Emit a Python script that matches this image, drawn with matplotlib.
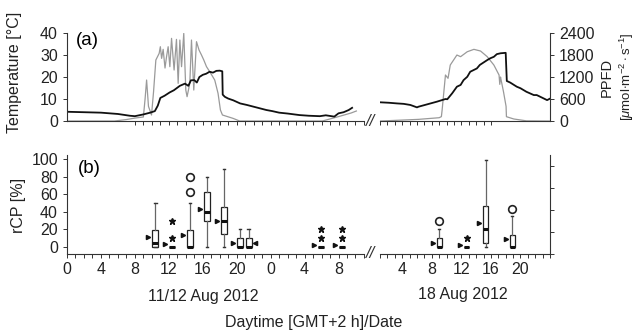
import matplotlib
matplotlib.use('Agg')
import matplotlib.pyplot as plt

plt.rcParams['font.family'] = ['Liberation Sans', 'DejaVu Sans']
plt.rcParams['mathtext.fontset'] = 'custom'
plt.rcParams['mathtext.rm'] = 'Liberation Sans'
plt.rcParams['mathtext.it'] = 'Liberation Sans:italic'
plt.rcParams['font.size'] = 11.5

# ---- (a) temperature / PPFD, 11/12 Aug (hours from 11 Aug 0:00)
t_temp_l = [0, 2, 4, 6, 7.4, 8, 9, 9.8, 10.35, 10.7, 11, 11.5, 12.1, 12.6, 13.3, 13.9, 14.3,
            14.6, 15, 15.3, 15.6, 16, 16.4, 16.8, 17.2, 17.6, 18, 18.3, 18.35, 18.6, 19, 19.6,
            20.4, 21.2, 22, 22.7, 23.5, 24.2, 25, 26, 27.4, 28.5, 29.8, 30.5, 31.5, 32, 32.6, 33.2, 33.6]
temp_l = [4.2, 4.0, 3.8, 3.2, 2.4, 2.2, 3.0, 3.8, 4.5, 7.0, 10.5, 11.5, 13.0, 14.0, 16.0, 17.0, 16.0,
          18.5, 18.6, 17.5, 20.0, 21.0, 21.5, 22.4, 22.0, 22.8, 22.9, 22.6, 12.0, 11.0, 10.2, 9.4,
          8.0, 7.3, 6.5, 5.8, 5.0, 4.5, 3.8, 3.4, 2.7, 2.4, 2.2, 2.6, 2.0, 3.5, 4.0, 5.0, 6.0]

t_ppfd_l = [0, 5.6, 7.0, 8.0, 9.0, 9.2, 9.38, 9.6, 9.96, 10.2, 10.47, 10.86, 11.0, 11.15, 11.33, 11.55,
            11.73, 11.92, 12.12, 12.32, 12.62, 12.9, 13.1, 13.3, 13.5, 13.76, 14.0, 14.15, 14.47,
            14.67, 14.94, 15.26, 15.56, 15.85, 16.12, 16.44, 16.82, 17.41, 17.8, 18.08, 18.32,
            19.56, 20.35, 29.0, 30.1, 32.0, 33.5, 34.1]
ppfd_l = [0, 0, 40, 80, 110, 600, 1118, 400, 164, 800, 1664, 1845, 2027, 1709, 1955, 1445,
          1755, 2027, 1482, 2255, 1391, 2227, 1027, 2209, 1482, 2391, 845, 664, 1027,
          2209, 845, 2164, 1936, 1800, 1664, 1482, 1345, 1118, 755, 300, 164,
          73, 0, 0, 0, 120, 220, 273]

# ---- (a) 18 Aug
t_temp_r = [1.07, 2.2, 3.3, 4.2, 5.1, 6.0, 6.2, 7.4, 8.7, 9.85, 10.1, 10.76, 11.4, 11.9, 12.3,
            12.8, 13.2, 14.1, 14.5, 15.5, 15.9, 16.4, 16.8, 17.3, 18.0, 18.15, 18.6, 19.5,
            20.0, 20.8, 21.8, 22.2, 23.3, 23.6, 24.0]
temp_r = [8.5, 8.3, 8.0, 7.8, 7.3, 6.2, 6.5, 7.6, 8.8, 10.0, 9.9, 12.6, 15.6, 16.4, 18.6,
          20.1, 22.4, 23.9, 25.5, 27.7, 28.5, 29.2, 30.4, 30.8, 31.0, 18.2, 17.5, 15.6,
          14.9, 13.3, 11.8, 11.8, 10.0, 9.5, 10.2]

t_ppfd_r = [1.07, 6.2, 9.0, 9.3, 9.4, 9.85, 10.2, 10.5, 11.4, 11.9, 12.8, 13.7, 14.6, 15.5,
            16.4, 17.1, 17.2, 17.3, 17.4, 17.7, 18.05, 18.1, 19.1, 20.8, 24.0]
ppfd_r = [0, 45, 90, 120, 300, 1255, 1164, 1527, 1800, 1755, 1890, 1955, 1909, 1755,
          1527, 1255, 1000, 1200, 1100, 800, 400, 118, 55, 5, 0]

# ---- (b) rCP boxplots: position [h], q1, median, q3, whisker low/high, mean,
#      outliers (o), extremes (*), side of the mean marker
box_pos_l = [10.4, 12.4, 14.5, 16.5, 18.5, 20.4, 21.4, 29.9, 32.4]
q1_l = [0, 0, 0, 30, 15, 0, 0, 0, 0]
med_l = [4.5, 0, 0, 40, 30, 0, 0, 0, 0]
q3_l = [19, 0, 19, 63, 45, 10, 10, 0, 0]
wlo_l = [0, 0, 0, 0, 0, 0, 0, 0, 0]
whi_l = [50, 0, 50, 80, 89, 20, 20, 0, 0]
mean_l = [11, 3, 14, 43, 30, 5, 5, 2, 2]
circ_l = [[], [], [62, 80], [], [], [], [], [], []]
star_l = [[], [10, 30], [], [], [], [], [], [10, 20], [10, 20]]
side_l = ['L', 'L', 'L', 'L', 'L', 'L', 'R', 'L', 'L']

box_pos_r = [9.0, 12.7, 15.3, 18.9]
q1_r = [0, 0, 4.5, 0]
med_r = [0, 0, 20, 0]
q3_r = [10, 0, 47, 14]
wlo_r = [0, 0, 0, 0]
whi_r = [20, 0, 99, 35]
mean_r = [5, 2, 27.6, 9]
circ_r = [[30], [], [], [43]]
star_r = [[], [10], [], []]
side_r = ['L', 'L', 'L', 'L']

xl_lim = (0, 35)
xr_lim = (1, 24)

fig = plt.figure(figsize=(6.37, 3.32), dpi=100)
ax_tl = fig.add_axes([0.1052, 0.6355, 0.4662, 0.265])
ax_tr = fig.add_axes([0.5966, 0.6355, 0.2669, 0.265])
ax_bl = fig.add_axes([0.1052, 0.2349, 0.4662, 0.2982])
ax_br = fig.add_axes([0.5966, 0.2349, 0.2669, 0.2982])

tick_kw = dict(direction='out', length=3, width=0.7, colors='#333333', labelcolor='#222222')
for ax in (ax_tl, ax_tr, ax_bl, ax_br):
    for s in ax.spines.values():
        s.set_linewidth(0.8)
        s.set_color('#333333')
    ax.spines['top'].set_visible(False)
    ax.spines['right'].set_visible(False)
    ax.tick_params(**tick_kw)

# ---- top panel
ppfd_tl = ax_tl.twinx()
ppfd_tr = ax_tr.twinx()
for ax, tt, tv, tp, pv, xlim, p in ((ax_tl, t_temp_l, temp_l, t_ppfd_l, ppfd_l, xl_lim, ppfd_tl),
                                   (ax_tr, t_temp_r, temp_r, t_ppfd_r, ppfd_r, xr_lim, ppfd_tr)):
    p.plot(tp, pv, color='#9a9a9a', lw=0.9)
    ax.plot(tt, tv, color='#111111', lw=1.3)
    ax.set_zorder(p.get_zorder() + 1)
    ax.patch.set_visible(False)
    ax.set_xlim(*xlim)
    ax.set_ylim(0, 40)
    p.set_ylim(0, 2400)
    for s in p.spines.values():
        s.set_visible(False)
    ax.tick_params(axis='x', labelbottom=False)

ppfd_tl.tick_params(axis='y', right=False, labelright=False)
ppfd_tr.spines['right'].set_visible(True)
ppfd_tr.spines['right'].set_linewidth(0.8)
ppfd_tr.spines['right'].set_color('#333333')
ppfd_tr.set_yticks([0, 600, 1200, 1800, 2400])
ppfd_tr.tick_params(axis='y', **tick_kw)
ax_tl.set_yticks([0, 10, 20, 30, 40])
ax_tl.set_xticks(range(8, 36))
ax_tr.set_xticks(range(1, 17))
ax_tl.text(0.03, 0.92, '(a)', transform=ax_tl.transAxes, fontsize=13.5, va='center')

# ---- bottom panel
def draw_boxes(ax, pos, q1, med, q3, wlo, whi, mean, circ, star, side, off):
    stats = []
    for i in range(len(pos)):
        stats.append(dict(med=med[i], q1=q1[i], q3=q3[i], whislo=wlo[i], whishi=whi[i],
                          fliers=circ[i]))
    ax.bxp(stats, positions=pos, widths=0.7, patch_artist=True, manage_ticks=False,
           boxprops=dict(facecolor='white', edgecolor='#222222', linewidth=0.9),
           medianprops=dict(color='#111111', linewidth=2.2),
           whiskerprops=dict(color='#666666', linewidth=0.9),
           capprops=dict(color='#333333', linewidth=1.0), capwidths=0.3,
           flierprops=dict(marker='o', markerfacecolor='none', markeredgecolor='#222222',
                           markersize=5.5, markeredgewidth=1.2))
    for i in range(len(pos)):
        if star[i]:
            ax.plot([pos[i]] * len(star[i]), star[i], ls='none', marker='*',
                    color='#111111', markersize=5)
        if side[i] == 'L':
            ax.plot(pos[i] - off, mean[i], marker='>', color='#111111', markersize=3, ls='none')
        else:
            ax.plot(pos[i] + off, mean[i], marker='<', color='#111111', markersize=3, ls='none')

draw_boxes(ax_bl, box_pos_l, q1_l, med_l, q3_l, wlo_l, whi_l, mean_l, circ_l, star_l, side_l, 0.8)
draw_boxes(ax_br, box_pos_r, q1_r, med_r, q3_r, wlo_r, whi_r, mean_r, circ_r, star_r, side_r, 0.85)

ax_bl.set_xlim(*xl_lim)
ax_br.set_xlim(*xr_lim)
for ax in (ax_bl, ax_br):
    ax.set_ylim(-8, 104.5)
ax_bl.set_yticks([0, 20, 40, 60, 80, 100])

ax_bl.set_xticks(range(0, 33, 4))
ax_bl.set_xticklabels([str(h % 24) for h in range(0, 33, 4)])
ax_bl.set_xticks(range(0, 36), minor=True)
ax_br.set_xticks(range(4, 21, 4))
ax_br.set_xticklabels([str(h) for h in range(4, 21, 4)])
ax_br.set_xticks(range(1, 25), minor=True)
for ax in (ax_bl, ax_br):
    ax.tick_params(axis='x', which='both', direction='out', length=3, width=0.7,
                   colors='#333333', labelcolor='#222222', pad=3)

r_b = ax_br.twinx()
r_b.set_ylim(0, 4.5)
r_b.set_yticks([0, 1, 2, 3, 4])
r_b.tick_params(axis='y', direction='out', length=3, width=0.7, colors='#333333', labelright=False)
for k in ('top', 'left', 'bottom'):
    r_b.spines[k].set_visible(False)
r_b.spines['right'].set_linewidth(0.8)
r_b.spines['right'].set_color('#333333')
ax_bl.text(0.035, 0.86, '(b)', transform=ax_bl.transAxes, fontsize=13.5, va='center')

# right-hand panels carry no left y axis (twinx turns the left ticks back on)
for ax in (ax_tr, ax_br):
    ax.spines['left'].set_visible(False)
    ax.tick_params(axis='y', left=False, labelleft=False)

# ---- labels
fig.text(15 / 637, 1 - 72 / 332, 'Temperature [°C]', rotation=90, ha='center', va='center', color='#222222')
fig.text(18 / 637, 1 - 205 / 332, 'rCP [%]', rotation=90, ha='center', va='center', color='#222222')
fig.text(607 / 637, 1 - 77 / 332, 'PPFD', rotation=90, ha='center', va='center',
         fontsize=10.5, color='#222222')
fig.text(627 / 637, 1 - 77 / 332, r'[$\mu$mol$\cdot$m$^{-2}\cdot$s$^{-1}$]', rotation=90,
         ha='center', va='center', fontsize=9.5, color='#222222')
fig.text(203 / 637, 1 - 296 / 332, '11/12 Aug 2012', ha='center', va='center', color='#222222')
fig.text(463 / 637, 1 - 294 / 332, '18 Aug 2012', ha='center', va='center', color='#222222')
fig.text(314 / 637, 1 - 323 / 332, 'Daytime [GMT+2 h]/Date', ha='center', va='center', color='#222222')
for yy in (121, 254):
    fig.text(371 / 637, 1 - yy / 332, '//', ha='center', va='center', fontsize=12,
             style='italic', color='#333333')

fig.savefig('out.png', dpi=100)
